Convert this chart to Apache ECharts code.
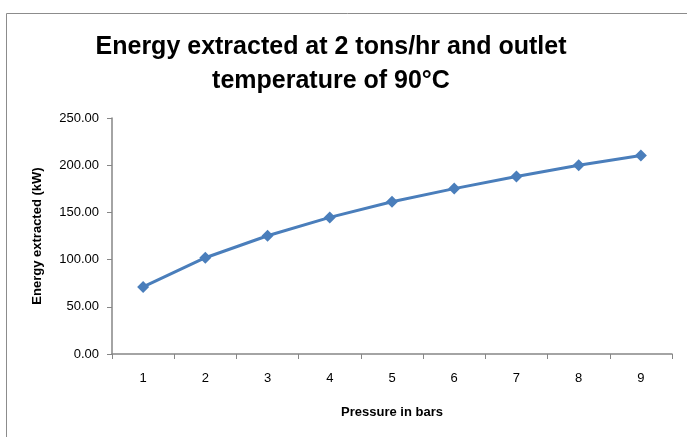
<!DOCTYPE html>
<html><head><meta charset="utf-8">
<script src="https://cdn.jsdelivr.net/npm/echarts@6/dist/echarts.min.js"></script>
<style>html,body{margin:0;padding:0;background:#fff}#c{width:687px;height:437px}</style>
</head><body><div id="c"></div>
<script>
const categories = ['1','2','3','4','5','6','7','8','9'];
const energy = [71.0, 102.0, 125.3, 144.7, 161.2, 175.2, 188.0, 200.0, 210.3];
const titleText = 'Energy extracted at 2 tons/hr and outlet\ntemperature of 90°C';
const xName = 'Pressure in bars';
const yName = 'Energy extracted (kW)';

const chart = echarts.init(document.getElementById('c'), null, {renderer:'canvas'});
const font = '"Liberation Sans", sans-serif';
chart.setOption({
  animation:false,
  backgroundColor:'#fff',
  graphic:[{type:'rect', left:4, top:11, shape:{width:720, height:460}, style:{fill:'none', stroke:'#8c8c8c', lineWidth:1}, silent:true}],
  title:{text:titleText, left:326, top:25, textAlign:'center',
    textStyle:{fontFamily:font, fontWeight:'bold', fontSize:25, lineHeight:34, color:'#000'}},
  grid:{left:112, right:15, top:118, bottom:83, containLabel:false},
  xAxis:{type:'category', data:categories, boundaryGap:true,
    name:xName, nameLocation:'middle', nameGap:52,
    nameTextStyle:{fontFamily:font, fontWeight:'bold', fontSize:13, color:'#000'},
    axisLine:{lineStyle:{color:'#868686', width:1.5}},
    axisTick:{show:true, length:5, lineStyle:{color:'#868686'}},
    axisLabel:{fontFamily:font, fontSize:13, color:'#000', margin:18}},
  yAxis:{type:'value', min:0, max:250, interval:50,
    name:yName, nameLocation:'middle', nameGap:68, nameRotate:90,
    nameTextStyle:{fontFamily:font, fontWeight:'bold', fontSize:13, color:'#000'},
    axisLine:{show:true, lineStyle:{color:'#868686', width:1.5}},
    axisTick:{show:true, length:5, lineStyle:{color:'#868686'}},
    splitLine:{show:false},
    axisLabel:{fontFamily:font, fontSize:13, color:'#000', margin:13, formatter:v=>v.toFixed(2)}},
  series:[{type:'line', data:energy, symbol:'diamond', symbolSize:12, showSymbol:true,
    lineStyle:{color:'#4a7ebb', width:3}, itemStyle:{color:'#4a7ebb'}}]
});
</script></body></html>
